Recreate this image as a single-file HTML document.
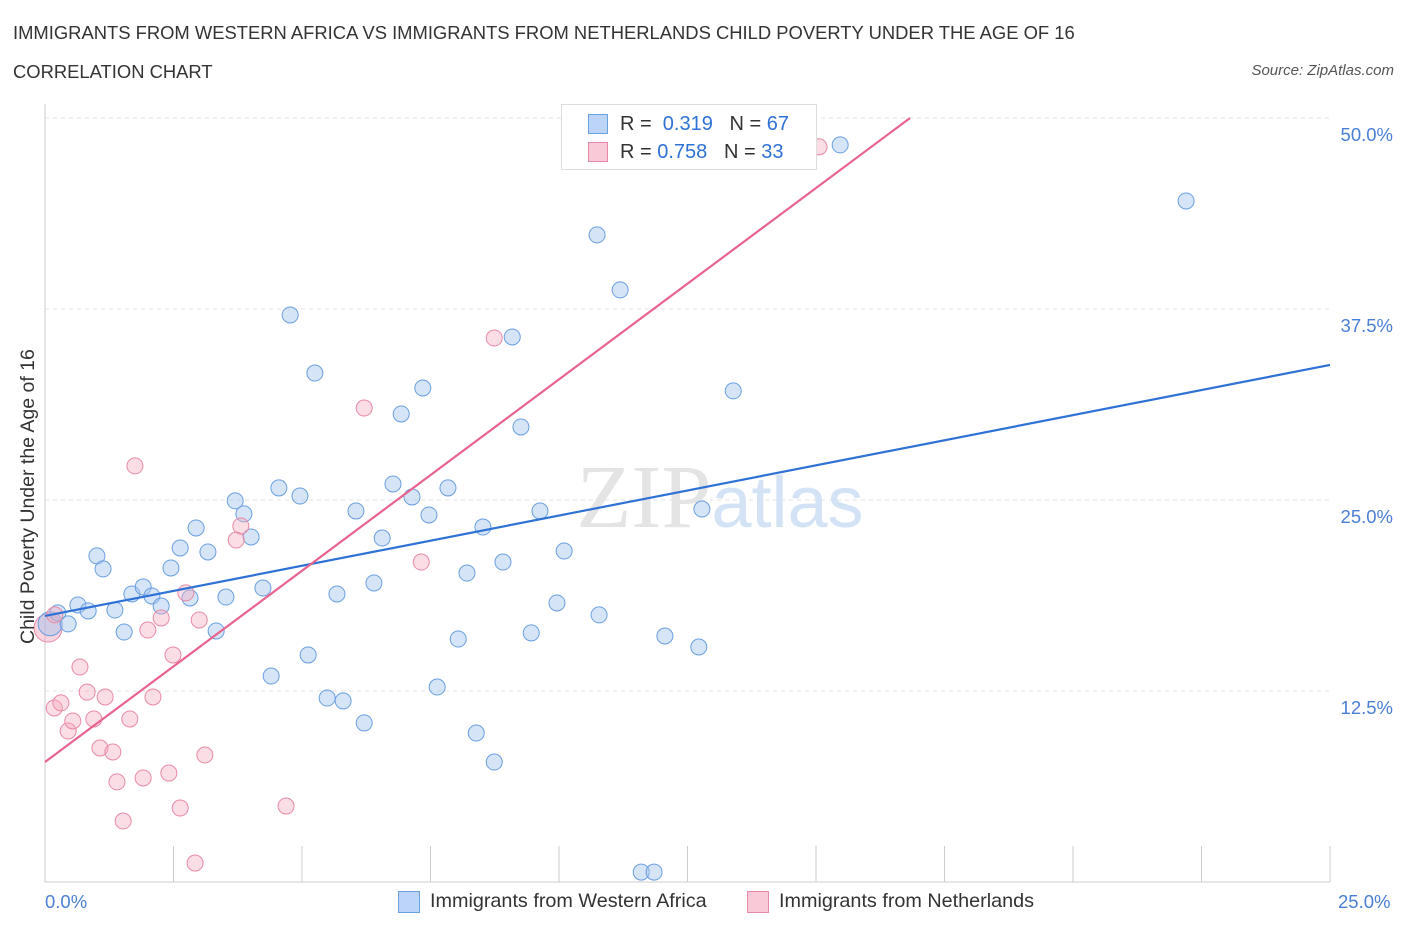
<!DOCTYPE html>
<html><head><meta charset="utf-8">
<style>
body{margin:0;background:#fff;font-family:"Liberation Sans",sans-serif;}
#wrap{position:relative;width:1406px;height:930px;overflow:hidden;}
.t{position:absolute;white-space:nowrap;}
</style></head>
<body>
<div id="wrap">
<div class="t" style="left:13px;top:22px;font-size:18.4px;color:#333;">IMMIGRANTS FROM WESTERN AFRICA VS IMMIGRANTS FROM NETHERLANDS CHILD POVERTY UNDER THE AGE OF 16</div>
<div class="t" style="left:13px;top:61px;font-size:18.4px;color:#333;">CORRELATION CHART</div>
<div class="t" style="right:12px;top:62px;font-size:15px;color:#555;font-style:italic;">Source: ZipAtlas.com</div>
<svg id="svg" width="1406" height="930" style="position:absolute;left:0;top:0"></svg>
</div>
<script>
const yTicks=[12.5,25,37.5,50];
const yTickLabels=["12.5%","25.0%","37.5%","50.0%"];
const xTicks=[0,2.5,5,7.5,10,12.5,15,17.5,20,22.5,25];
const blueX=[0.25,0.45,0.64,0.84,1.01,1.13,1.36,1.54,1.69,1.91,2.08,2.26,2.45,2.63,2.82,2.94,3.17,3.33,3.52,3.70,3.87,4.01,4.24,4.40,4.55,4.77,4.96,5.12,5.25,5.49,5.68,5.80,6.05,6.21,6.40,6.56,6.77,6.93,7.14,7.35,7.47,7.63,7.84,8.04,8.21,8.39,8.52,8.74,8.91,9.09,9.26,9.46,9.63,9.96,10.10,10.74,10.78,11.19,11.60,11.85,12.06,12.72,12.78,13.39,15.47,22.20];
const blueY=[17.61,16.89,18.13,17.74,21.34,20.49,17.80,16.36,18.85,19.31,18.72,18.06,20.55,21.86,18.59,23.17,21.60,16.43,18.65,24.94,24.09,22.58,19.24,13.48,25.79,37.11,25.26,14.86,33.31,12.04,18.85,11.85,24.28,10.41,19.57,22.51,26.05,30.63,25.20,32.33,24.02,12.76,25.79,15.90,20.22,9.75,23.23,7.85,20.94,35.67,29.78,16.30,24.28,18.26,21.66,42.35,17.48,38.75,0.65,0.65,16.10,15.38,24.41,32.14,48.24,44.57];
const pinkX=[0.18,0.19,0.31,0.45,0.54,0.68,0.82,0.95,1.07,1.17,1.32,1.40,1.52,1.65,1.75,1.91,2.00,2.10,2.26,2.41,2.49,2.63,2.74,2.92,3.00,3.11,3.72,3.81,4.69,6.21,7.32,8.74,15.06];
const pinkY=[11.39,17.48,11.72,9.88,10.54,14.07,12.43,10.67,8.77,12.11,8.51,6.55,3.99,10.67,27.23,6.81,16.49,12.11,17.28,7.13,14.86,4.84,18.92,1.24,17.15,8.31,22.38,23.30,4.97,31.02,20.94,35.60,48.11];
const blueTrendX=[0,25];
const blueTrendY=[17.41,33.84];
const pinkTrendX=[0,16.83];
const pinkTrendY=[7.85,50.0];

const NS="http://www.w3.org/2000/svg";
const svg=document.getElementById('svg');
const X=v=>45+v/25*1285;
const Y=v=>882-v/50*764;
function mk(tag,attrs,parent){const e=document.createElementNS(NS,tag);for(const k in attrs)e.setAttribute(k,attrs[k]);(parent||svg).appendChild(e);return e;}

yTicks.forEach((v,i)=>{
 const g=mk('line',{x1:45,x2:1330,y1:Y(v),y2:Y(v),stroke:'#e3e3e3','stroke-dasharray':'4,4'});
 
 
 const t=mk('text',{x:1393,y:Y(v)+23,'text-anchor':'end','font-size':18.5,fill:'#4a7fd4','font-family':'Liberation Sans, sans-serif'});
 t.textContent=yTickLabels[i];
 
 
});
mk('line',{x1:45,x2:45,y1:104,y2:882,stroke:'#ccc'});
mk('line',{x1:45,x2:1330,y1:882,y2:882,stroke:'#ccc'});
xTicks.forEach(v=>{
 const l=mk('line',{x1:X(v),x2:X(v),y1:846,y2:882,stroke:'#ccc'});
 
 
});
const wm=mk('text',{x:720,y:527,'text-anchor':'middle','font-size':90,'font-family':'Liberation Serif, serif',fill:'#e4e4e4'});
wm.innerHTML='ZIP<tspan font-family="Liberation Sans, sans-serif" font-size="72" fill="#d3e2f5">atlas</tspan>';



function pts(xs,ys,fill,stroke,name){
 xs.forEach((x,i)=>{
  const c=mk('circle',{cx:X(x),cy:Y(ys[i]),r:8,fill:fill,stroke:stroke,'stroke-width':1});
  
  
 });
}
const big1=mk('circle',{cx:X(0.06),cy:Y(16.62),r:14,fill:'rgba(240,160,185,0.45)',stroke:'#e88aa5'});


const big2=mk('circle',{cx:X(0.10),cy:Y(16.9),r:12,fill:'rgba(160,195,240,0.45)',stroke:'#6a9fe0'});


pts(blueX,blueY,'rgba(164,196,240,0.45)','#6a9fe0','blue-point');
pts(pinkX,pinkY,'rgba(244,170,190,0.4)','#e88aa5','pink-point');
const bl=mk('line',{x1:X(blueTrendX[0]),y1:Y(blueTrendY[0]),x2:X(blueTrendX[1]),y2:Y(blueTrendY[1]),stroke:'#2f72d6','stroke-width':2.2});


const pl=mk('line',{x1:X(pinkTrendX[0]),y1:Y(pinkTrendY[0]),x2:X(pinkTrendX[1]),y2:Y(pinkTrendY[1]),stroke:'#e8638f','stroke-width':2.2});


</script>
<div class="t" style="left:45px;top:891px;font-size:18.5px;color:#4a7fd4;">0.0%</div>
<div class="t" style="left:1338px;top:891px;font-size:18.5px;color:#4a7fd4;">25.0%</div>
<div class="t" style="font-size:19.5px;color:#333;transform:rotate(-90deg);transform-origin:0 0;left:17px;top:644px;">Child Poverty Under the Age of 16</div>
<div style="position:absolute;left:561px;top:104px;width:254px;height:64px;border:1px solid #ddd;background:#fff;font-size:20px;">
 <div class="t" style="left:26px;top:9px;width:18px;height:18px;background:#bcd4f7;border:1px solid #6a9fe0;"></div>
 <div class="t" style="left:58px;top:8px;color:#333;">R = &nbsp;<span style="color:#2f72d6">0.319</span> &nbsp;&nbsp;N = <span style="color:#2f72d6">67</span></div>
 <div class="t" style="left:26px;top:37px;width:18px;height:18px;background:#f8c9d6;border:1px solid #e88aa5;"></div>
 <div class="t" style="left:58px;top:36px;color:#333;">R = <span style="color:#2f72d6">0.758</span> &nbsp;&nbsp;N = <span style="color:#2f72d6">33</span></div>
</div>
<div class="t" style="left:398px;top:891px;width:20px;height:20px;background:#bcd4f7;border:1px solid #6a9fe0;"></div>
<div class="t" style="left:430px;top:890px;font-size:19.8px;color:#333;">Immigrants from Western Africa</div>
<div class="t" style="left:747px;top:891px;width:20px;height:20px;background:#f8c9d6;border:1px solid #e88aa5;"></div>
<div class="t" style="left:779px;top:890px;font-size:19.8px;color:#333;">Immigrants from Netherlands</div>
</body></html>
